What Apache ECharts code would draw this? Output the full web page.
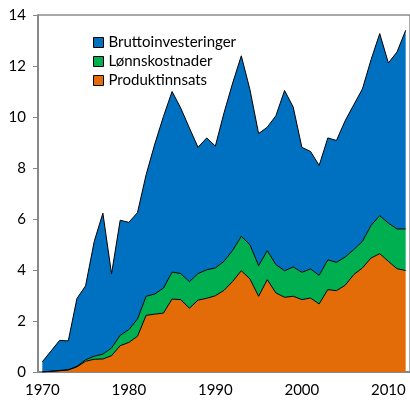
<!DOCTYPE html>
<html>
<head>
<meta charset="utf-8">
<script src="https://cdn.jsdelivr.net/npm/echarts@6/dist/echarts.min.js"></script>
<style>
  html, body { margin: 0; padding: 0; background: #fff; }
  #chart { width: 410px; height: 402px; }
</style>
</head>
<body>
<div id="chart"></div>
<script>
// years 1970..2012
var years = [];
for (var y = 1970; y <= 2012; y++) years.push(String(y));

var produktinnsats = [
  0, 0.03, 0.05, 0.08, 0.2, 0.42, 0.5, 0.51, 0.64, 1.03,
  1.16, 1.4, 2.22, 2.27, 2.31, 2.86, 2.84, 2.5, 2.82, 2.89,
  2.99, 3.2, 3.55, 3.97, 3.65, 2.97, 3.62, 3.1, 2.93, 2.97,
  2.84, 2.9, 2.67, 3.23, 3.19, 3.4, 3.82, 4.08, 4.47, 4.64,
  4.34, 4.05, 3.98
];
var lonnskostnader = [
  0, 0, 0.01, 0.01, 0.02, 0.06, 0.12, 0.19, 0.3, 0.41,
  0.5, 0.68, 0.75, 0.79, 0.98, 1.06, 1.02, 1.04, 1.04, 1.12,
  1.09, 1.14, 1.22, 1.35, 1.34, 1.2, 1.14, 1.11, 1.04, 1.15,
  1.07, 1.14, 1.12, 1.17, 1.11, 1.11, 0.98, 1.04, 1.28, 1.49,
  1.5, 1.56, 1.63
];
var bruttoinvesteringer = [
  0.4, 0.79, 1.18, 1.13, 2.66, 2.9, 4.5, 5.53, 2.91, 4.51,
  4.21, 4.17, 4.77, 5.88, 6.73, 7.08, 6.49, 6.03, 4.95, 5.17,
  4.78, 5.82, 6.56, 7.08, 6.08, 5.18, 4.84, 5.84, 7.07, 6.27,
  4.9, 4.61, 4.31, 4.78, 4.78, 5.34, 5.68, 5.98, 6.5, 7.14,
  6.28, 6.94, 7.79
];

var font = 'Lato, "Open Sans", sans-serif';

function areaSeries(name, data, color) {
  return {
    name: name,
    type: 'line',
    stack: 'total',
    data: data,
    color: color,
    symbol: 'none',
    showSymbol: false,
    lineStyle: { color: '#000', width: 1 },
    areaStyle: { color: color, opacity: 1 }
  };
}

var chart = echarts.init(document.getElementById('chart'));
chart.setOption({
  animation: false,
  grid: {
    left: 38, top: 15, width: 376, height: 357,
    show: true, borderColor: '#555', borderWidth: 1
  },
  legend: {
    orient: 'vertical',
    left: 93, top: 33,
    padding: 0,
    icon: 'rect',
    itemWidth: 10, itemHeight: 10,
    itemGap: 0,
    itemStyle: { borderColor: '#000', borderWidth: 1 },
    textStyle: { fontFamily: font, fontSize: 15, color: '#000', lineHeight: 19 },
    data: ['Bruttoinvesteringer', 'Lønnskostnader', 'Produktinnsats']
  },
  xAxis: {
    type: 'category',
    data: years,
    boundaryGap: true,
    axisLine: { lineStyle: { color: '#888', width: 2 } },
    axisTick: { interval: 9, length: 5, lineStyle: { color: '#888' } },
    axisLabel: { interval: 9, margin: 11, fontFamily: font, fontSize: 15, color: '#000' },
    splitLine: { show: false }
  },
  yAxis: {
    type: 'value',
    min: 0, max: 14, interval: 2,
    axisLine: { show: true, lineStyle: { color: '#888', width: 2 } },
    axisTick: { show: true, length: 5, lineStyle: { color: '#888' } },
    axisLabel: { margin: 12, fontFamily: font, fontSize: 15, color: '#000' },
    splitLine: { show: false }
  },
  series: [
    areaSeries('Produktinnsats', produktinnsats, '#E36C09'),
    areaSeries('Lønnskostnader', lonnskostnader, '#00B050'),
    areaSeries('Bruttoinvesteringer', bruttoinvesteringer, '#0070C0')
  ]
});
</script>
</body>
</html>
